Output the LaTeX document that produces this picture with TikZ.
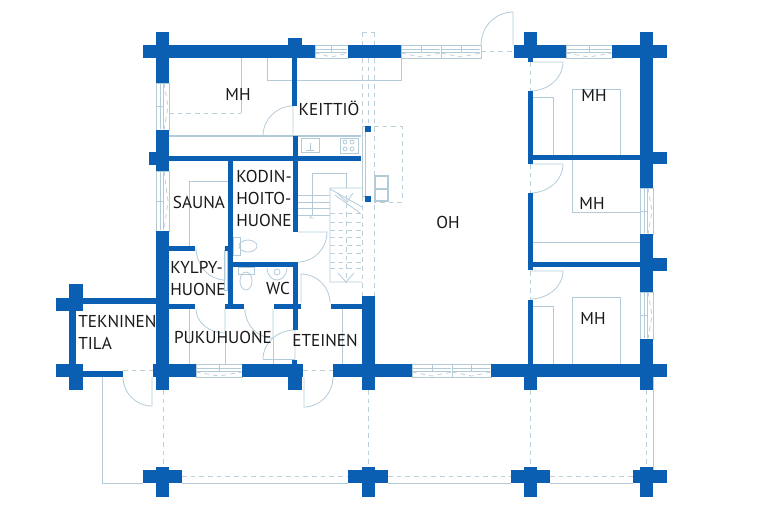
\documentclass[tikz,border=0pt]{standalone}
\usepackage{fontspec}
\setmainfont{PT Sans}
\usetikzlibrary{calc}

\definecolor{wallblue}{HTML}{0A5FB2}
\definecolor{linegray}{HTML}{B3CBD8}
\definecolor{dashgray}{HTML}{BDCFD9}

\tikzset{
  wall/.style={fill=wallblue, draw=none},
  fine/.style={draw=linegray, line width=0.6pt},
  hidden/.style={draw=dashgray, line width=0.6pt, dash pattern=on 3.5pt off 3pt},
  room/.style={font=\fontsize{12.9}{16.5}\selectfont, text=black!90, inner sep=0pt, align=left},
}

% door: hinge, open leaf end, closed end
\newcommand{\doorswing}[3]{\draw[fine] (#1) -- (#2) .. controls ($(#2)+0.552*(#3)-0.552*(#1)$) and ($(#3)+0.552*(#2)-0.552*(#1)$) .. (#3);}
% windows: x1,x2,y1,y2 and y1,y2,x1,x2
\newcommand{\hwindow}[4]{
  \draw[fine] (#1,#3) rectangle (#2,#4);
  \draw[fine] (#1+1,#3+4) -- (#2-1,#3+4) (#1+1,#3+7) -- (#2-1,#3+7);
  \draw[fine] ({(#1+#2)/2},#3) -- ({(#1+#2)/2},#3+8);
  \draw[hidden] (#1,#3+8) -- ({(#1+#2)/2},#4-1) -- (#2,#3+8);
}
\newcommand{\vwindow}[4]{
  \draw[fine] (#3,#1) rectangle (#4,#2);
  \draw[fine] (#3+4,#1+1) -- (#3+4,#2-1) (#3+7,#1+1) -- (#3+7,#2-1);
  \draw[fine] (#3,{(#1+#2)/2}) -- (#3+8,{(#1+#2)/2});
  \draw[hidden] (#3+8,#1) -- (#4-1,{(#1+#2)/2}) -- (#3+8,#2);
}

\begin{document}
\begin{tikzpicture}[x=0.75pt,y=-0.75pt]
  \useasboundingbox (0,0) rectangle (768,512);

  % Windows
  \hwindow{315}{348}{45}{58}
  \hwindow{401}{441}{45}{58}
  \hwindow{441}{481}{45}{58}
  \hwindow{566}{612}{45}{58}
  \hwindow{196}{242}{364}{377}
  \hwindow{412}{452}{364}{377}
  \hwindow{452}{491}{364}{377}
  \vwindow{83}{130}{156}{169}
  \vwindow{171}{231}{156}{169}
  \vwindow{188}{234}{640}{653}
  \vwindow{292}{339}{640}{653}

  % Openings
  \draw[hidden] (481,51) -- (514,51);
  \draw[hidden] (123,370) -- (153,370);
  \draw[hidden] (303,370) -- (333,370);
  \draw[hidden] (530,62) -- (530,91);
  \draw[hidden] (530,164) -- (530,193);
  \draw[hidden] (530,271) -- (530,300);

  % Doors
  \doorswing{513,45}{513,12}{481,45}
  \doorswing{530,62}{563,62}{530,91}
  \doorswing{530,164}{563,164}{530,193}
  \doorswing{530,271}{563,271}{530,299}
  \doorswing{293,136}{293,106}{263,136}
  \doorswing{298,232}{327,232}{298,262}
  \doorswing{225,247}{225,280}{196,247}
  \doorswing{225,309}{225,333}{196,309}
  \doorswing{273,309}{273,338}{245,309}
  \doorswing{295,359}{295,330}{263,359}
  \draw[fine] (263,359) -- (295,359);
  \doorswing{301,303}{301,274}{330,303}
  \doorswing{152,377}{152,406}{123,377}
  \doorswing{304,377}{304,407}{333,377}
  \draw[fine] (224,250) rectangle (227,290);

  % Furniture
  \draw[hidden] (169,113) -- (241,113);
  \draw[fine] (241,58) -- (241,113);
  \draw[fine] (267,58) -- (267,80) -- (401,80) -- (401,58);
  \draw[fine] (169,135) -- (361,135) (169,136.5) -- (361,136.5);
  \draw[fine] (301,138) rectangle (319,152);
  \draw[fine] (310,143) -- (310,150) (306,150) -- (314,150);
  \draw[fine] (340,138) rectangle (358,153);
  \foreach \hobx in {345,352} {
    \foreach \hoby in {142,149} {
      \draw[fine] (\hobx,\hoby) circle[radius=2];
    }
  }
  \draw[fine] (362,126) rectangle (365,196);
  \draw[hidden] (374,126) -- (402,126) -- (402,202) -- (374,202);
  \draw[draw=linegray, line width=1pt] (375,176) rectangle (388,201) (375,189) -- (388,189);

  \draw[fine] (189,181) -- (228,181) (189,181) -- (189,246);
  \draw[fine] (189,309) -- (189,364) (342,309) -- (342,364);
  \draw[fine] (225,333) -- (225,364) (273,338) -- (273,364);
  \draw[fine] (233,237) rectangle (240,255);
  \draw[fine] (248,246) ellipse[x radius=9, y radius=6];
  \draw[fine] (238,267) rectangle (254,274);
  \draw[fine] (246,281) ellipse[x radius=6, y radius=9];
  \draw[fine] (267,268) .. controls (268,284) and (286,284) .. (287,268);
  \draw[fine] (277,272) circle[radius=3];

  % Bedrooms
  \draw[fine] (533,97) -- (553,97) -- (553,155);
  \draw[fine] (572,155) -- (572,89) -- (620,89) -- (620,155);
  \draw[fine] (572,160) -- (572,212) -- (640,212);
  \draw[fine] (533,242) -- (640,242);
  \draw[fine] (533,306) -- (553,306) -- (553,364);
  \draw[fine] (572,364) -- (572,297) -- (620,297) -- (620,364);

  % Stairs
  \draw[fine] (330,188) -- (362,188) (362,207) -- (330,189) (330,188) -- (330,282) -- (362,282);
  \draw[fine] (335,195) -- (360,213);
  \foreach \tread in {213,222,230,237,245,253,262,268} {
    \draw[hidden] (330,\tread) -- (362,\tread);
  }
  \draw[hidden] (346,195) -- (346,282);
  \draw[fine] (338,273) -- (346,282) -- (354,273);
  \draw[fine] (337,193) -- (347,202) -- (353,193);
  \foreach \tread in {195,202,208,215} {
    \draw[fine] (297,\tread) -- (330,\tread);
  }
  \draw[fine] (312,215) -- (312,173) -- (346,173) -- (346,188);
  \draw[fine] (312,215) -- (310,218) -- (314,218);

  % Terrace and log lines
  \draw[fine] (102,377) -- (102,483) -- (143,483);
  \draw[fine] (182,483) -- (348,483) (388,483) -- (511,483) (550,483) -- (633,483);
  \draw[fine] (653,377) -- (653,470);
  \draw[hidden] (182,476) -- (348,476) (388,476) -- (511,476) (550,476) -- (633,476);
  \draw[hidden] (163,390) -- (163,467) (368,390) -- (368,467) (530,390) -- (530,467) (646,390) -- (646,467);
  \draw[hidden] (362,32) -- (362,296) (374,32) -- (374,296) (362,32) -- (374,32);
  \draw[hidden] (368,58) -- (368,126);

  % Outer log walls
  \fill[wall] (143,45) rectangle (315,58);
  \fill[wall] (348,45) rectangle (401,58);
  \fill[wall] (514,45) rectangle (566,58);
  \fill[wall] (612,45) rectangle (667,58);
  \fill[wall] (156,32) rectangle (169,83);
  \fill[wall] (156,130) rectangle (169,171);
  \fill[wall] (149,152) rectangle (156,165);
  \fill[wall] (156,231) rectangle (169,390);
  \fill[wall] (288,38) rectangle (302,58);
  \fill[wall] (524,32) rectangle (537,58);
  \fill[wall] (528,58) rectangle (533,62);
  \fill[wall] (640,32) rectangle (653,188);
  \fill[wall] (653,152) rectangle (667,164);
  \fill[wall] (640,234) rectangle (653,292);
  \fill[wall] (653,258) rectangle (667,271);
  \fill[wall] (640,339) rectangle (653,390);

  \fill[wall] (153,364) rectangle (196,377);
  \fill[wall] (242,364) rectangle (303,377);
  \fill[wall] (288,364) rectangle (302,390);
  \fill[wall] (333,364) rectangle (412,377);
  \fill[wall] (491,364) rectangle (667,377);
  \fill[wall] (362,296) rectangle (375,390);
  \fill[wall] (524,364) rectangle (537,390);
  \fill[wall] (365,126) rectangle (371,132);
  \fill[wall] (365,196) rectangle (371,202);

  % Technical room
  \fill[wall] (56,298) rectangle (83,311);
  \fill[wall] (83,298) rectangle (156,304);
  \fill[wall] (69,284) rectangle (83,311);
  \fill[wall] (69,311) rectangle (76,364);
  \fill[wall] (56,364) rectangle (83,377);
  \fill[wall] (69,377) rectangle (83,390);
  \fill[wall] (83,371) rectangle (123,377);

  % Inner walls
  \fill[wall] (169,156) rectangle (361,161);
  \fill[wall] (292,58) rectangle (297,106);
  \fill[wall] (293,136) rectangle (298,232);
  \fill[wall] (228,161) rectangle (233,305);
  \fill[wall] (233,262) rectangle (298,267);
  \fill[wall] (293,262) rectangle (298,330);
  \fill[wall] (292,360) rectangle (297,364);
  \fill[wall] (169,246) rectangle (195,251);
  \fill[wall] (225,246) rectangle (228,251);
  \fill[wall] (169,304) rectangle (195,309);
  \fill[wall] (225,304) rectangle (244,309);
  \fill[wall] (274,304) rectangle (301,309);
  \fill[wall] (331,304) rectangle (362,309);
  \fill[wall] (528,91) rectangle (533,164);
  \fill[wall] (533,155) rectangle (640,160);
  \fill[wall] (528,193) rectangle (533,270);
  \fill[wall] (533,262) rectangle (640,267);
  \fill[wall] (528,300) rectangle (533,364);

  % Terrace posts
  \fill[wall] (143,470) rectangle (182,483);
  \fill[wall] (156,467) rectangle (169,497);
  \fill[wall] (348,470) rectangle (388,483);
  \fill[wall] (362,467) rectangle (375,497);
  \fill[wall] (511,470) rectangle (550,483);
  \fill[wall] (524,467) rectangle (537,497);
  \fill[wall] (633,470) rectangle (667,483);
  \fill[wall] (640,467) rectangle (653,497);

  % Room names
  \node[room] (mhnw) at (238,94) {MH};
  \node[room] (keittio) at (329,108) {KEITTIÖ};
  \node[room] (sauna) at (199,202) {SAUNA};
  \node[room, anchor=north west] (kodinhoito) at (236,170) {KODIN-\\HOITO-\\HUONE};
  \node[room, anchor=north west] (kylpy) at (170,261) {KYLPY-\\HUONE};
  \node[room] (wc) at (278,288) {WC};
  \node[room, anchor=north west] (tekninen) at (78,315) {TEKNINEN\\TILA};
  \node[room] (pukuhuone) at (223,337) {PUKUHUONE};
  \node[room] (eteinen) at (325,340) {ETEINEN};
  \node[room] (oh) at (448,222) {OH};
  \node[room] (mhne) at (594,95) {MH};
  \node[room] (mhe) at (592,203) {MH};
  \node[room] (mhse) at (593,318) {MH};
\end{tikzpicture}
\end{document}
